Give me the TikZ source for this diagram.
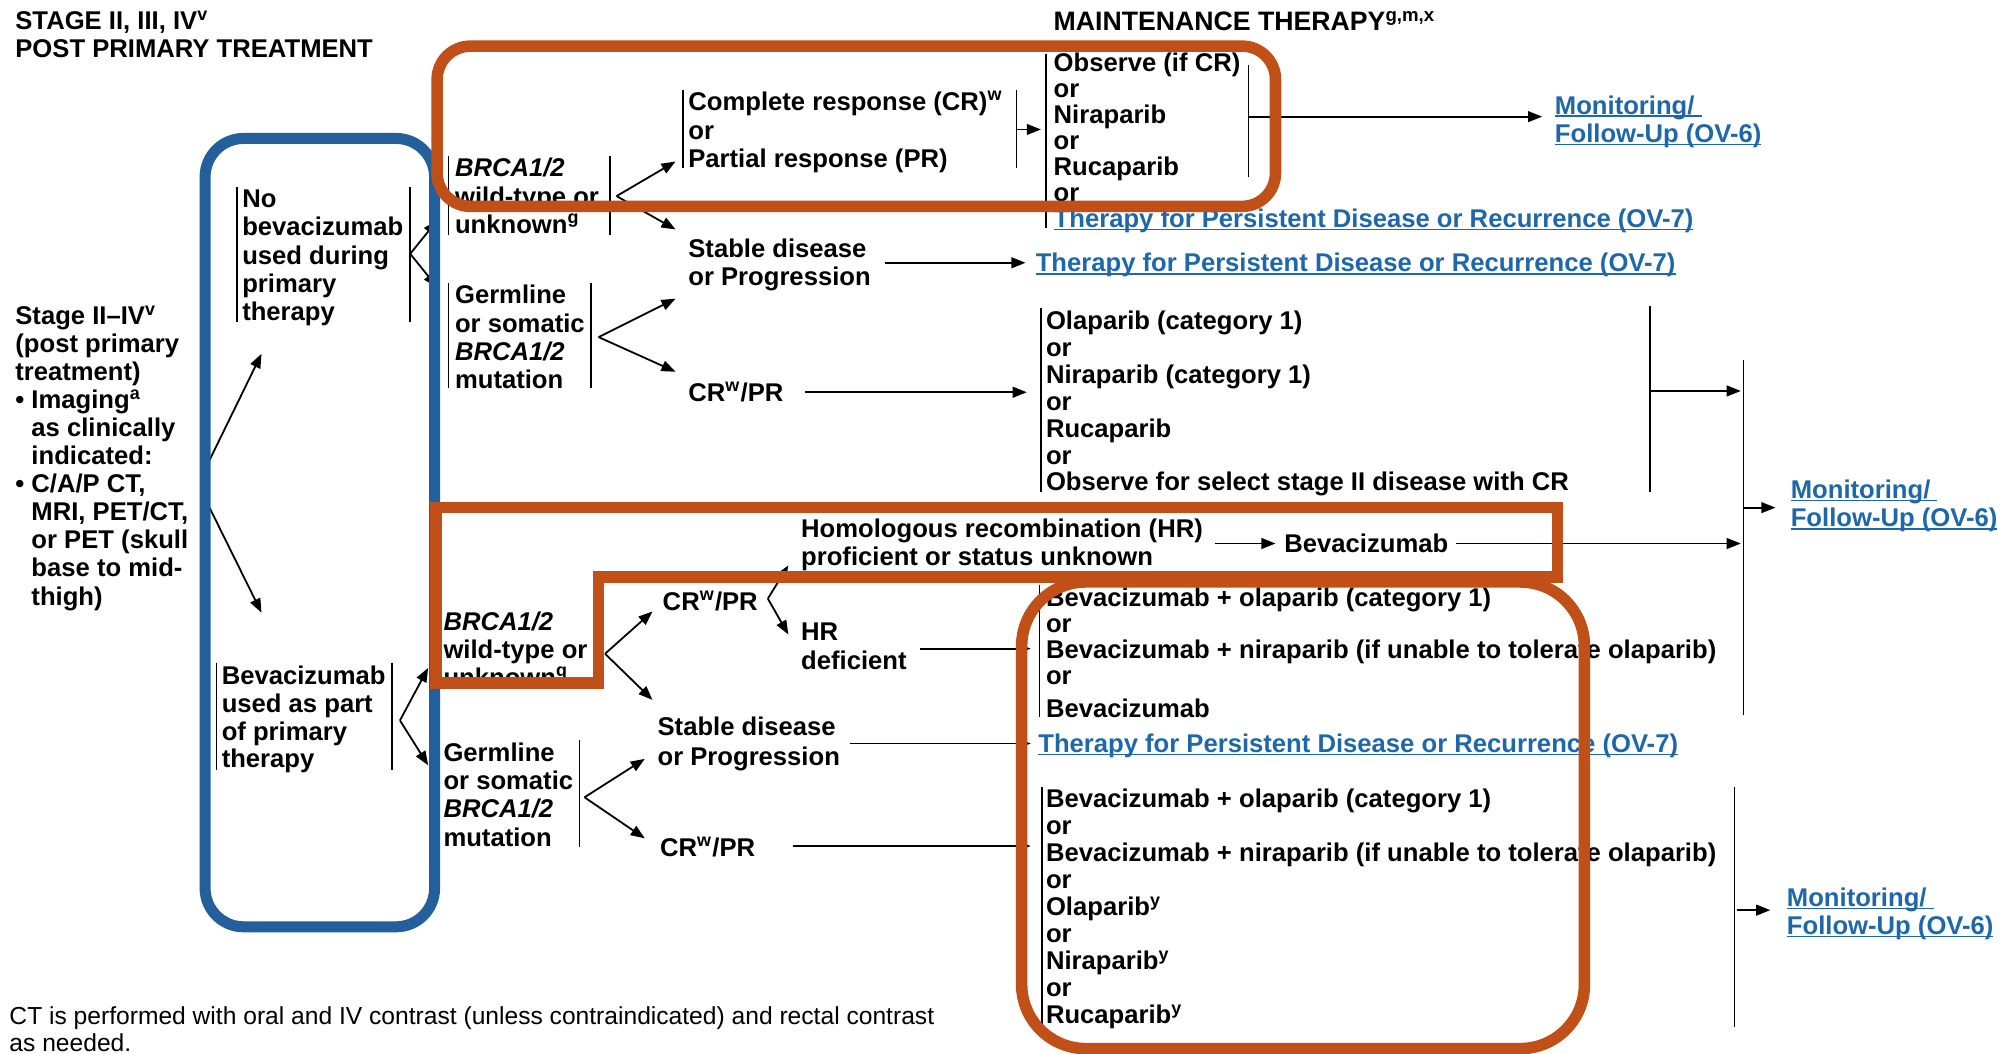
\documentclass[tikz,border=0pt]{standalone}
\usepackage{fontspec}
\setmainfont{Liberation Sans}
\usetikzlibrary{arrows.meta}
\definecolor{linkblue}{RGB}{30,104,170}
\definecolor{frameblue}{RGB}{35,95,155}
\definecolor{frameorange}{RGB}{192,80,24}
% bold body text with a fixed line pitch
\newcommand\fnt[1]{\fontsize{10pt}{#1pt}\selectfont\bfseries\lineskiplimit=-100pt\relax}
% first-line strut: node top sits 10pt above the first baseline
\newcommand\fs{\rule{0pt}{10pt}}
% underlined link text, rule just below the baseline
\newcommand\lk[1]{\setbox0=\hbox{#1}\rlap{\rule[-1.1pt]{\wd0}{0.55pt}}\box0}
% hanging indent under a bullet
\newcommand\ind{\hphantom{•\ }}
\begin{document}
\begin{tikzpicture}[x=0.5pt,y=-0.5pt,
  tx/.style={anchor=north west, inner sep=0pt, outer sep=0pt, align=left, font=\fnt{#1}},
  tx/.default=11,
  link/.style={tx=#1, text=linkblue},
  link/.default=11,
  arr/.style={line width=0.7pt, -{Triangle[length=5.5pt,width=4.2pt]}},
  brk/.style={line width=0.6pt},
  frameB/.style={draw=frameblue, line width=4.3pt, rounded corners=15pt},
  frameO/.style={draw=frameorange, line width=4.5pt}]

\useasboundingbox (0,0) rectangle (1568,822);
\fill[white] (0,0) rectangle (1568,822);

% ---------- headings ----------
\node[tx] (head) at (12,3) {\fs STAGE II, III, IV\textsuperscript{v}\\POST PRIMARY TREATMENT};
\node[tx, font=\fontsize{10.4pt}{11pt}\selectfont\bfseries] (mhead) at (822,4) {\fs MAINTENANCE THERAPY\textsuperscript{g,m,x}};

% ---------- left column ----------
\node[tx=10.95] (stage) at (12,233) {\fs Stage II–IV\textsuperscript{v}\\(post primary\\treatment)\\• Imaging\textsuperscript{a}\\\ind as clinically\\\ind indicated:\\• C/A/P CT,\\\ind MRI, PET/CT,\\\ind or PET (skull\\\ind base to mid-\\\ind thigh)};

\node[tx] (nobev) at (189,142) {\fs No\\bevacizumab\\used during\\primary\\therapy};
\draw[brk] (185,146) -- (185,251);
\draw[brk] (320,146) -- (320,251);

\node[tx=10.85] (bevU) at (173,514) {\fs Bevacizumab\\used as part\\of primary\\therapy};
\draw[brk] (169,517) -- (169,601);
\draw[brk] (306,517) -- (306,601);

% ---------- upper branch ----------
\node[tx] (brcaA) at (355,118) {\fs\textit{BRCA1/2}\\wild-type or\\unknown\textsuperscript{g}};
\draw[brk] (350,122) -- (350,183);
\draw[brk] (476,122) -- (476,183);

\node[tx] (germA) at (355,217) {\fs Germline\\or somatic\\\textit{BRCA1/2}\\mutation};
\draw[brk] (350,221) -- (350,303);
\draw[brk] (461,221) -- (461,303);

\node[tx=11.25] (crA) at (537,66) {\fs Complete response (CR)\textsuperscript{w}\\or\\Partial response (PR)};
\draw[brk] (533,70) -- (533,131);
\draw[brk] (793,70) -- (793,131);

\node[tx=10.1] (obsA) at (822,36) {\fs Observe (if CR)\\or\\Niraparib\\or\\Rucaparib\\or\\\textcolor{linkblue}{\lk{Therapy for Persistent Disease or Recurrence (OV-7)}}};
\draw[brk] (816,42) -- (816,178);
\draw[brk] (974,51) -- (974,138);

\node[link] (monA) at (1213,69) {\fs\lk{Monitoring/\ }\\\lk{Follow-Up (OV-6)}};

\node[tx] (stabA) at (537,181) {\fs Stable disease\\or Progression};
\node[link] (thA) at (808,192) {\fs\lk{Therapy for Persistent Disease or Recurrence (OV-7)}};

\node[tx] (crB) at (537,293) {\fs CR\textsuperscript{w}/PR};
\node[tx=10.5] (olaA) at (816,237) {\fs Olaparib (category 1)\\or\\Niraparib (category 1)\\or\\Rucaparib\\or\\Observe for select stage II disease with CR};
\draw[brk] (812,240) -- (812,384);
\draw[brk] (1287,239) -- (1287,384);

\node[link] (monB) at (1397,369) {\fs\lk{Monitoring/\ }\\\lk{Follow-Up (OV-6)}};

% ---------- lower branch ----------
\node[tx=10.8] (brcaB) at (346,472) {\fs\textit{BRCA1/2}\\wild-type or\\unknown\textsuperscript{g}};

\node[tx] (crC) at (517,456) {\fs CR\textsuperscript{w}/PR};
\node[tx] (hrp) at (625,399) {\fs Homologous recombination (HR)\\proficient or status unknown};
\node[tx] (bevA) at (1002,411) {\fs Bevacizumab};
\node[tx] (hrd) at (625,480) {\fs HR\\deficient};

\node[tx=10.2] (bevB) at (816,453) {\fs Bevacizumab + olaparib (category 1)\\or\\Bevacizumab + niraparib (if unable to tolerate olaparib)\\or\\[2.7pt]Bevacizumab};
\draw[brk] (811,456) -- (811,559);

\node[tx=11.5] (stabB) at (513,554) {\fs Stable disease\\or Progression};
\node[link] (thB) at (810,567) {\fs\lk{Therapy for Persistent Disease or Recurrence (OV-7)}};

\node[tx] (germB) at (346,574) {\fs Germline\\or somatic\\\textit{BRCA1/2}\\mutation};
\draw[brk] (341,577) -- (341,661);
\draw[brk] (452,577) -- (452,661);

\node[tx] (crD) at (515,648) {\fs CR\textsuperscript{w}/PR};
\node[tx=10.55] (bevC) at (816,610) {\fs Bevacizumab + olaparib (category 1)\\or\\Bevacizumab + niraparib (if unable to tolerate olaparib)\\or\\Olaparib\textsuperscript{y}\\or\\Niraparib\textsuperscript{y}\\or\\Rucaparib\textsuperscript{y}};
\draw[brk] (813,614) -- (813,799);
\draw[brk] (1353,614) -- (1353,801);

\node[link] (monC) at (1394,687) {\fs\lk{Monitoring/\ }\\\lk{Follow-Up (OV-6)}};

% ---------- footnote ----------
\node[anchor=north west, inner sep=0pt, align=left, font=\fontsize{9.6pt}{10.5pt}\selectfont] (foot) at (7,779)
  {\fs CT is performed with oral and IV contrast (unless contraindicated) and rectal contrast\\as needed.};

% ---------- junction points ----------
\coordinate (jSa) at (160,366);  \coordinate (jSb) at (160,389);
\coordinate (tNo) at (204,276);  \coordinate (tBu) at (204,478);
\coordinate (jNo) at (320,198);
\coordinate (tBrA) at (341,172); \coordinate (tGeA) at (341,224);
\coordinate (jBrA) at (481,153); \coordinate (tCrA) at (527,126); \coordinate (tStA) at (527,179);
\coordinate (jGeA) at (467,263); \coordinate (tStA2) at (527,233); \coordinate (tCrB) at (527,290);
\coordinate (jCrA) at (793,101); \coordinate (tObs) at (812,101);
\coordinate (jObs) at (974,91);  \coordinate (tMonA) at (1203,91);
\coordinate (jStA) at (690,205); \coordinate (tThA) at (800,205);
\coordinate (jCrB) at (628,306); \coordinate (tOla) at (801,306);
\coordinate (jOla) at (1288,305); \coordinate (tBig1) at (1358,305);
\coordinate (bigTop) at (1360,281); \coordinate (bigBot) at (1360,558);
\coordinate (jBig) at (1360,396); \coordinate (tMonB) at (1385,396);
\coordinate (jHrp) at (948,424); \coordinate (tBevA) at (995,424);
\coordinate (jBevA) at (1136,424); \coordinate (tBig2) at (1358,424);
\coordinate (jBu) at (312,562);  \coordinate (tBrB) at (334,521); \coordinate (tGeB) at (334,597);
\coordinate (jBrB) at (472,510); \coordinate (tCrC) at (509,477); \coordinate (tStB) at (509,546);
\coordinate (jCrC) at (599,467); \coordinate (tHrp) at (615,441); \coordinate (tHrd) at (615,495);
\coordinate (jHrd) at (718,506); \coordinate (tBevB) at (804,506);
\coordinate (jStB) at (663,580); \coordinate (tThB) at (804,580);
\coordinate (jGeB) at (456,622); \coordinate (tStB2) at (503,592); \coordinate (tCrD) at (503,654);
\coordinate (jCrD) at (619,660); \coordinate (tBevC) at (804,660);
\coordinate (jBevC) at (1355,710); \coordinate (tMonC) at (1381,710);

% ---------- connectors ----------
\draw[arr] (jSa) -- (tNo);
\draw[arr] (jSb) -- (tBu);
\draw[arr] (jNo) -- (tBrA);
\draw[arr] (jNo) -- (tGeA);
\draw[arr] (jBrA) -- (tCrA);
\draw[arr] (jBrA) -- (tStA);
\draw[arr] (jGeA) -- (tStA2);
\draw[arr] (jGeA) -- (tCrB);
\draw[arr] (jCrA) -- (tObs);
\draw[arr] (jObs) -- (tMonA);
\draw[arr] (jStA) -- (tThA);
\draw[arr] (jCrB) -- (tOla);
\draw[arr] (jOla) -- (tBig1);
\draw[brk] (bigTop) -- (bigBot);
\draw[arr] (jBig) -- (tMonB);
\draw[arr] (jHrp) -- (tBevA);
\draw[arr] (jBevA) -- (tBig2);
\draw[arr] (jBu) -- (tBrB);
\draw[arr] (jBu) -- (tGeB);
\draw[arr] (jBrB) -- (tCrC);
\draw[arr] (jBrB) -- (tStB);
\draw[arr] (jCrC) -- (tHrp);
\draw[arr] (jCrC) -- (tHrd);
\draw[arr] (jHrd) -- (tBevB);
\draw[arr] (jStB) -- (tThB);
\draw[arr] (jGeB) -- (tStB2);
\draw[arr] (jGeB) -- (tCrD);
\draw[arr] (jCrD) -- (tBevC);
\draw[arr] (jBevC) -- (tMonC);

% ---------- highlight frames ----------
\draw[frameB] (160,108) rectangle (339,723);
\draw[frameO, rounded corners=13pt] (341,36) rectangle (995,161);
\draw[frameO, line join=miter] (340,396) -- (1215,396) -- (1215,450) -- (467,450) -- (467,533) -- (340,533) -- cycle;
\draw[frameO, rounded corners=25pt] (797,454) rectangle (1236,818);
\end{tikzpicture}
\end{document}
